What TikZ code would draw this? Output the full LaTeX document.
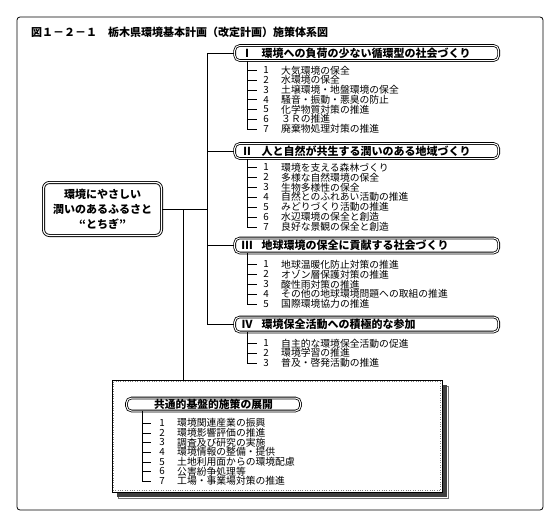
\documentclass[tikz,border=0pt]{standalone}
\usepackage{fontspec}
\setmainfont{Noto Sans CJK JP}
\usetikzlibrary{shadows}

\tikzset{
  goal/.style={draw, double, double distance=1pt, line width=0.8pt, rounded corners=5pt,
    text width=250pt, inner xsep=7pt, inner ysep=0pt, minimum height=15pt,
    anchor=west, align=left, font=\fontsize{11}{12}\selectfont\bfseries},
  commongoal/.style={draw, double, double distance=1pt, line width=0.8pt, rounded corners=5pt,
    minimum width=174pt, minimum height=13pt, inner sep=0pt,
    font=\fontsize{10.8}{12}\selectfont\bfseries},
  root/.style={draw, double, double distance=1.2pt, line width=0.9pt, rounded corners=6pt,
    minimum width=118pt, minimum height=53pt, align=center,
    font=\fontsize{11}{15}\selectfont\bfseries},
  panel/.style={draw, fill=white, line width=0.8pt, minimum width=330pt, minimum height=112pt,
    drop shadow={shadow xshift=6.5pt, shadow yshift=-6.5pt, fill=white, draw=black!55, opacity=1},
    drop shadow={shadow xshift=5pt, shadow yshift=-5pt, fill=black!75, opacity=1}},
  num/.style={inner sep=0pt, font=\fontsize{9.8}{10}\selectfont},
  item/.style={inner sep=0pt, anchor=west, font=\fontsize{9.8}{10}\selectfont},
}

\begin{document}
\begin{tikzpicture}[x=1pt, y=-1pt]
    % Page and frame
    \fill[white] (0,0) rectangle (560,525);
    \useasboundingbox (0,0) rectangle (560,525);
    \draw[line width=0.8pt, rounded corners=3pt] (17,17) rectangle (543,510);
    \node[anchor=west, inner sep=0pt, font=\fontsize{11}{12}\selectfont\bfseries] (title) at (31,32)
        {図１－２－１　栃木県環境基本計画（改定計画）施策体系図};

    % Root and the four goals
    \node[root] (root) at (102.5,209) {環境にやさしい\\潤いのあるふるさと\\“とちぎ”};
    \node[goal] (g1) at (234.3,53) {\makebox[20pt][l]{Ⅰ}環境への負荷の少ない循環型の社会づくり};
    \node[goal] (g2) at (234.3,151) {\makebox[20pt][l]{Ⅱ}人と自然が共生する潤いのある地域づくり};
    \node[goal] (g3) at (234.3,245.5) {\makebox[20pt][l]{Ⅲ}地球環境の保全に貢献する社会づくり};
    \node[goal] (g4) at (234.3,324.5) {\makebox[20pt][l]{Ⅳ}環境保全活動への積極的な参加};

    % Trunk
    \coordinate (trunk) at (207,0);
    \coordinate (hub) at (183,0);
    \draw[line width=0.6pt] (g1.west) -- (g1.west -| trunk) |- (g4.west);
    \draw[line width=0.6pt] (g2.west) -- (g2.west -| trunk);
    \draw[line width=0.6pt] (g3.west) -- (g3.west -| trunk);
    \draw[line width=0.6pt] (root.east) -- (root.east -| trunk);

    % Measures of goal I
    \foreach \t [count=\n] in {大気環境の保全, 水環境の保全, 土壌環境・地盤環境の保全,
        騒音・振動・悪臭の防止, 化学物質対策の推進, ３Ｒの推進, 廃棄物処理対策の推進} {
        \coordinate (g1-c\n) at (247, {70.5+9.7*(\n-1)});
        \draw (g1-c\n) -- ++(10,0);
        \node[num] (g1-n\n) at (266, {70.5+9.7*(\n-1)}) {\n};
        \node[item] (g1-t\n) at (281, {70.5+9.7*(\n-1)}) {\t};
    }
    \draw (g1.south -| g1-c1) -- (g1-c7);

    % Measures of goal II
    \foreach \t [count=\n] in {環境を支える森林づくり, 多様な自然環境の保全, 生物多様性の保全,
        自然とのふれあい活動の推進, みどりづくり活動の推進, 水辺環境の保全と創造, 良好な景観の保全と創造} {
        \coordinate (g2-c\n) at (247, {167.5+9.9*(\n-1)});
        \draw (g2-c\n) -- ++(10,0);
        \node[num] (g2-n\n) at (266, {167.5+9.9*(\n-1)}) {\n};
        \node[item] (g2-t\n) at (281, {167.5+9.9*(\n-1)}) {\t};
    }
    \draw (g2.south -| g2-c1) -- (g2-c7);

    % Measures of goal III
    \foreach \t [count=\n] in {地球温暖化防止対策の推進, オゾン層保護対策の推進, 酸性雨対策の推進,
        その他の地球環境問題への取組の推進, 国際環境協力の推進} {
        \coordinate (g3-c\n) at (247, {264.5+9.9*(\n-1)});
        \draw (g3-c\n) -- ++(10,0);
        \node[num] (g3-n\n) at (266, {264.5+9.9*(\n-1)}) {\n};
        \node[item] (g3-t\n) at (281, {264.5+9.9*(\n-1)}) {\t};
    }
    \draw (g3.south -| g3-c1) -- (g3-c5);

    % Measures of goal IV
    \foreach \t [count=\n] in {自主的な環境保全活動の促進, 環境学習の推進, 普及・啓発活動の推進} {
        \coordinate (g4-c\n) at (247, {343.5+9.7*(\n-1)});
        \draw (g4-c\n) -- ++(10,0);
        \node[num] (g4-n\n) at (266, {343.5+9.7*(\n-1)}) {\n};
        \node[item] (g4-t\n) at (281, {343.5+9.7*(\n-1)}) {\t};
    }
    \draw (g4.south -| g4-c1) -- (g4-c3);

    % Common basic measures
    \node[panel] (base) at (277,436) {};
    \draw[black!50, dotted] ([shift={(2,2)}]base.north west) rectangle ([shift={(-2,-2)}]base.south east);
    \draw[line width=0.6pt] (root.east -| hub) -- (base.north -| hub);
    \node[commongoal] (common) at (213.5,404.5) {共通的基盤的施策の展開};
    \foreach \t [count=\n] in {環境関連産業の振興, 環境影響評価の推進, 調査及び研究の実施,
        環境情報の整備・提供, 土地利用面からの環境配慮, 公害紛争処理等, 工場・事業場対策の推進} {
        \coordinate (b-c\n) at (142, {423+9.7*(\n-1)});
        \draw (b-c\n) -- ++(9,0);
        \node[num] (b-n\n) at (162, {423+9.7*(\n-1)}) {\n};
        \node[item] (b-t\n) at (177, {423+9.7*(\n-1)}) {\t};
    }
    \draw (common.south -| b-c1) -- (b-c7);
\end{tikzpicture}
\end{document}
